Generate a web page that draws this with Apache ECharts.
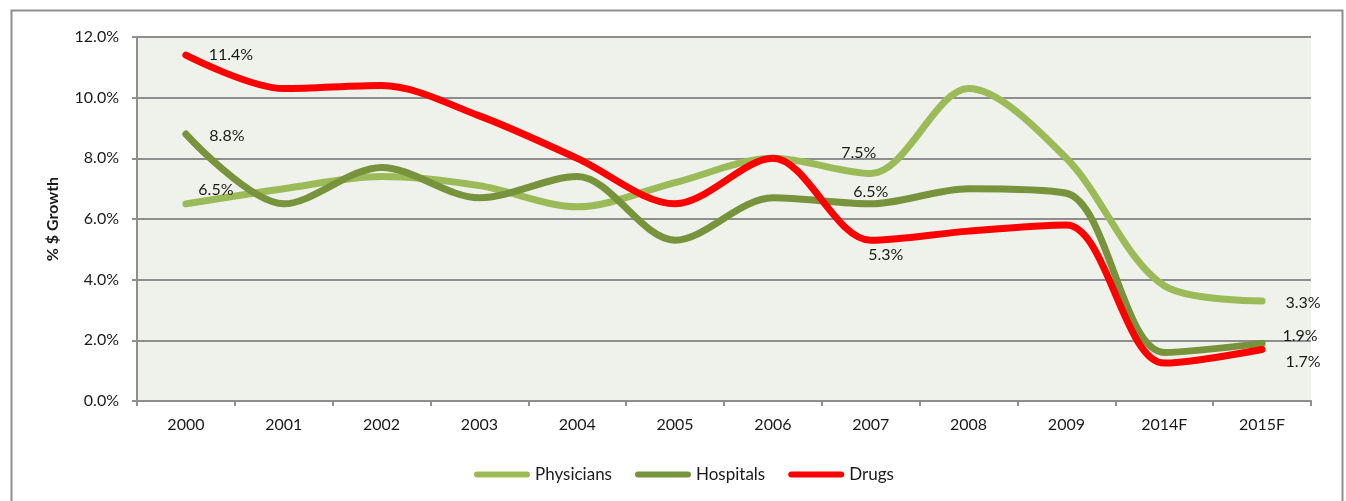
<!DOCTYPE html>
<html>
<head>
<meta charset="utf-8">
<script src="https://cdn.jsdelivr.net/npm/echarts@6/dist/echarts.min.js"></script>
<style>
  html, body { margin: 0; padding: 0; background: #ffffff; }
  #chart { width: 1346px; height: 501px; }
</style>
</head>
<body>
<div id="chart"></div>
<script>
// Annual spending growth, % by category
const years = ['2000', '2001', '2002', '2003', '2004', '2005', '2006', '2007', '2008', '2009', '2014F', '2015F'];
const physicians = [6.5, 7.0, 7.4, 7.1, 6.4, 7.2, 8.0, 7.5, 10.3, 8.0, 3.8, 3.3];
const hospitals  = [8.8, 6.5, 7.7, 6.7, 7.4, 5.3, 6.7, 6.5, 7.0, 6.85, 1.6, 1.9];
const drugs      = [11.4, 10.3, 10.4, 9.4, 8.0, 6.5, 8.0, 5.3, 5.6, 5.8, 1.25, 1.7];
const yTicks = [0, 2, 4, 6, 8, 10, 12];

const FONT = 'Lato, "Open Sans", sans-serif';
const fmt = v => v.toFixed(1) + '%';

// where each value label sits, relative to its point (index -> [dx, dy])
const labelSpots = {
  Physicians: { 0: [30, -14], 7: [-12, -21], 11: [41, 2] },
  Hospitals:  { 0: [41, 2],   7: [0, -12],   11: [38, -8] },
  Drugs:      { 0: [45, 0],   7: [15, 15],   11: [41, 12] }
};

function withLabels(name, values) {
  const spots = labelSpots[name];
  return values.map((v, i) => spots[i] ? {
    value: v,
    label: {
      show: true, position: 'inside', offset: spots[i],
      formatter: p => fmt(p.value),
      color: '#1a1a1a', fontFamily: FONT, fontSize: 16
    }
  } : v);
}

function lineSeries(name, values, color) {
  return {
    name, type: 'line', data: withLabels(name, values),
    smooth: 0.32,
    symbol: 'circle', symbolSize: 2, showSymbol: true,
    itemStyle: { color },
    lineStyle: { color, width: 7, cap: 'round', join: 'round' },
    label: { show: false },
    emphasis: { disabled: true },
    silent: true
  };
}

const legendIcon = 'path://M3,0 H53 A3,3 0 0 1 53,6 H3 A3,3 0 0 1 3,0 Z';

const chart = echarts.init(document.getElementById('chart'), null, { renderer: 'canvas' });
chart.setOption({
  animation: false,
  backgroundColor: '#ffffff',
  graphic: [{
    type: 'rect', left: 9, top: 8, z: -10,
    shape: { width: 1331, height: 510 },
    style: { fill: 'none', stroke: '#8e8e8e', lineWidth: 2 }
  }],
  grid: {
    left: 137, right: 35, top: 37, bottom: 100,
    show: true, backgroundColor: '#eff2ea', borderWidth: 0
  },
  legend: {
    top: 461, left: 469,
    itemWidth: 56, itemHeight: 6, itemGap: 23,
    icon: legendIcon,
    textStyle: { fontFamily: FONT, fontSize: 17, color: '#1a1a1a' },
    data: ['Physicians', 'Hospitals', 'Drugs']
  },
  xAxis: {
    type: 'category', data: years, boundaryGap: true,
    axisLine: { show: true, lineStyle: { color: '#8e8e8e', width: 2 } },
    axisTick: { show: true, length: 5, lineStyle: { color: '#8e8e8e', width: 2 } },
    axisLabel: { color: '#1a1a1a', fontFamily: FONT, fontSize: 16, margin: 16 },
    splitLine: { show: false }
  },
  yAxis: {
    type: 'value', min: 0, max: 12, interval: 2,
    name: '% $ Growth', nameLocation: 'middle', nameGap: 76, nameRotate: 90,
    nameTextStyle: { fontFamily: FONT, fontSize: 16, fontWeight: 'bold', color: '#1a1a1a' },
    axisLine: { show: true, lineStyle: { color: '#8e8e8e', width: 2 } },
    axisTick: { show: true, length: 5, lineStyle: { color: '#8e8e8e', width: 2 } },
    axisLabel: {
      color: '#1a1a1a', fontFamily: FONT, fontSize: 16, margin: 18,
      formatter: v => yTicks.includes(v) ? fmt(v) : ''
    },
    splitLine: { show: true, lineStyle: { color: '#8e8e8e', width: 2 } }
  },
  series: [
    lineSeries('Physicians', physicians, '#9bbb59'),
    lineSeries('Hospitals', hospitals, '#77933c'),
    lineSeries('Drugs', drugs, '#ff0000')
  ]
});
</script>
</body>
</html>
